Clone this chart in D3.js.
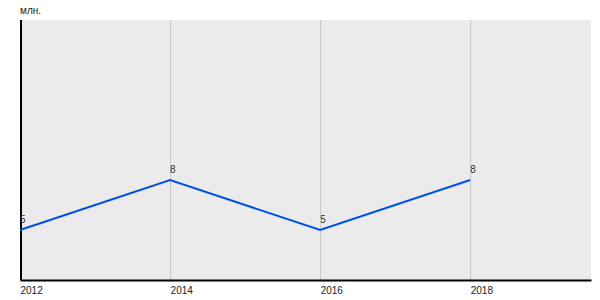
<!DOCTYPE html>
<html><head><meta charset="utf-8">
<script src="https://cdn.jsdelivr.net/npm/d3@7"></script>
<style>body{margin:0;background:#fff;} text{font-family:"Liberation Sans",Arial,sans-serif;}</style>
</head><body>
<svg id="c" width="600" height="300"></svg>
<script>
const years = [2012, 2014, 2016, 2018];
const values = [5, 8, 5, 8];
const tickLabels = ["2012", "2014", "2016", "2018"];
const unitLabel = "млн.";

const svg = d3.select("#c");
const m = {l: 20, t: 20, r: 9, b: 20};
const W = 600, H = 300;
const x = d3.scaleLinear().domain([2012, 2019.61]).range([m.l, W - m.r]);
const y = d3.scaleLinear().domain([2, 17.6]).range([H - m.b, m.t]);

svg.append("rect").attr("x", m.l).attr("y", m.t)
  .attr("width", W - m.r - m.l).attr("height", H - m.b - m.t).attr("fill", "#ebebeb");

// grid
svg.append("g").selectAll("line").data(years.slice(1)).join("line")
  .attr("x1", d => x(d) + 0.5).attr("x2", d => x(d) + 0.5)
  .attr("y1", m.t).attr("y2", H - m.b)
  .attr("stroke", "#c8c8c8").attr("stroke-width", 1);

// axes
const xAxis = d3.axisBottom(x).tickValues(years).tickFormat((d, i) => tickLabels[i]).tickSize(0);
const gx = svg.append("g").attr("transform", `translate(0,${H - m.b})`).call(xAxis);
gx.select(".domain").attr("stroke", "#000").attr("stroke-width", 2);
gx.selectAll("text").attr("text-anchor", "start").attr("dy", null).attr("y", 13.5)
  .attr("font-size", 10).attr("fill", "#222").attr("font-family", "Liberation Sans, Arial, sans-serif");

svg.append("line").attr("x1", m.l + 1).attr("x2", m.l + 1).attr("y1", m.t).attr("y2", H - m.b)
  .attr("stroke", "#000").attr("stroke-width", 2);

svg.append("text").attr("x", m.l).attr("y", 14).attr("font-size", 10).attr("fill", "#222").text(unitLabel);

// line
const pts = years.map((d, i) => [d, values[i]]);
svg.append("path").datum(pts)
  .attr("d", d3.line().x(d => x(d[0])).y(d => y(d[1])))
  .attr("fill", "none").attr("stroke", "#0050e6").attr("stroke-width", 2);

svg.append("g").selectAll("text").data(pts).join("text")
  .attr("x", d => x(d[0])).attr("y", d => y(d[1]) - 7)
  .attr("font-size", 10).attr("fill", "#333").text(d => d[1]);
</script>
</body></html>
